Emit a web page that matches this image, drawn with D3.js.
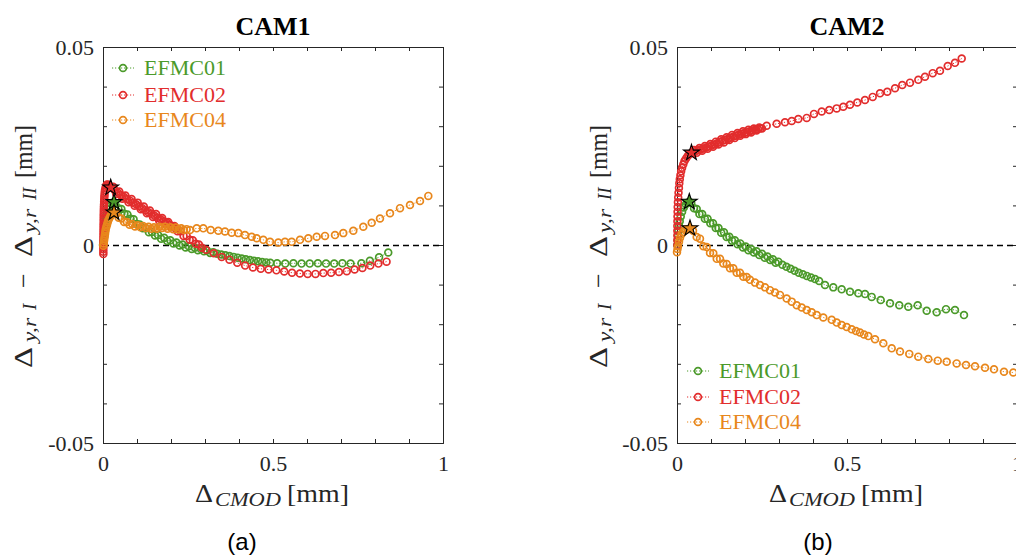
<!DOCTYPE html>
<html>
<head>
<meta charset="utf-8">
<script src="https://cdn.jsdelivr.net/npm/d3@7"></script>
<style>
  body { margin: 0; background: #fff; }
  svg { display: block; }
</style>
</head>
<body>
<svg id="chart" width="1016" height="557"></svg>
<script>
// series names / colours (same for both cameras)
const seriesNames = ["EFMC01", "EFMC02", "EFMC04"];
const seriesColors = ["#4b9a2a", "#e22d2d", "#e8871c"];

const xTickValues = [0, 0.5, 1];
const xTickLabels = ["0", "0.5", "1"];
const yTickValues = [-0.05, 0, 0.05];
const yTickLabels = ["-0.05", "0", "0.05"];

// CAM1, [CMOD, difference] in mm
const cam1Efmc01 = [[0,0],[0.002,0.001],[0.003,0.002],[0.004,0.003],[0.005,0.004],[0.006,0.005],[0.007,0.006],[0.009,0.007],[0.011,0.008],[0.014,0.009],[0.018,0.0098],[0.023,0.0104],[0.028,0.0107],[0.0324,0.0108],
  [0.036,0.0106],[0.045,0.0093],[0.054,0.0091],[0.063,0.0079],[0.072,0.0077],[0.081,0.0066],[0.090,0.0065],[0.099,0.0053],[0.108,0.0052],[0.117,0.0042],[0.126,0.0042],[0.135,0.0032],[0.144,0.0033],[0.153,0.0024],[0.162,0.0025],[0.171,0.0016],[0.180,0.0018],[0.189,0.0010],[0.198,0.0012],[0.207,0.0004],[0.216,0.0006],[0.225,-0.0001],[0.234,0.0001],[0.243,-0.0006],[0.252,-0.0003],[0.261,-0.0010],[0.270,-0.0007],[0.279,-0.0013],[0.288,-0.0010],[0.297,-0.0016],[0.306,-0.0014],[0.315,-0.0020],[0.324,-0.0018],
  [0.336,-0.0022],[0.348,-0.0024],[0.360,-0.0026],[0.372,-0.0028],[0.384,-0.0030],[0.396,-0.0032],[0.408,-0.0034],[0.420,-0.0036],[0.432,-0.0038],[0.444,-0.0040],[0.456,-0.0041],[0.468,-0.0043],[0.480,-0.0044],[0.492,-0.0045],
  [0.512,-0.0046],[0.536,-0.0047],[0.560,-0.0046],[0.584,-0.0047],[0.608,-0.0047],[0.632,-0.0046],[0.656,-0.0047],[0.680,-0.0047],[0.704,-0.0046],[0.728,-0.0047],[0.760,-0.0046],[0.785,-0.0040],[0.812,-0.0031],[0.839,-0.0019]];

const cam1Efmc02 = [[0.001,-0.0023],[0.001,-0.0017],[0.001,-0.0011],[0.001,-0.0005],[0.0012,0.0001],[0.0012,0.0007],[0.0013,0.0013],[0.0013,0.0019],[0.0014,0.0025],[0.0015,0.0031],[0.0015,0.0037],[0.0016,0.0043],[0.0017,0.0049],[0.0018,0.0055],[0.0019,0.0061],[0.002,0.0067],[0.0021,0.0073],[0.0022,0.0079],[0.0023,0.0085],[0.0025,0.0091],[0.0027,0.0097],[0.003,0.0103],[0.0033,0.0109],[0.0036,0.0115],[0.004,0.0121],[0.0045,0.0127],[0.005,0.0133],[0.006,0.0139],[0.0075,0.0145],[0.0095,0.0150],[0.012,0.0153],[0.015,0.0152],[0.019,0.0149],[0.0226,0.0145],
  [0.030,0.0147],[0.0345,0.0138],[0.039,0.0129],[0.0435,0.0132],[0.048,0.0135],[0.0525,0.0126],[0.057,0.0117],[0.0615,0.0121],[0.066,0.0125],[0.0705,0.0116],[0.075,0.0108],[0.0795,0.0112],[0.084,0.0116],[0.0885,0.0107],[0.093,0.0099],[0.0975,0.0103],[0.102,0.0107],[0.1065,0.0098],[0.111,0.0090],[0.1155,0.0093],[0.120,0.0097],[0.1245,0.0088],[0.129,0.0080],[0.1335,0.0083],[0.138,0.0087],[0.1425,0.0079],[0.147,0.0071],[0.1515,0.0074],[0.156,0.0078],[0.1605,0.0069],[0.165,0.0062],[0.1695,0.0065],[0.174,0.0068],[0.1785,0.0060],[0.183,0.0053],[0.1875,0.0056],[0.192,0.0058],[0.1965,0.0051],[0.201,0.0045],[0.2055,0.0046],[0.210,0.0048],[0.2145,0.0041],[0.219,0.0035],[0.228,0.0035],[0.237,0.0023],[0.246,0.0023],[0.255,0.0013],[0.264,0.0012],[0.273,0.0003],[0.282,0.0001],[0.291,-0.0007],
  [0.303,-0.0012],[0.326,-0.0021],[0.349,-0.0030],[0.372,-0.0037],[0.395,-0.0045],[0.418,-0.0052],[0.441,-0.0057],[0.464,-0.0060],[0.487,-0.0062],[0.510,-0.0064],[0.533,-0.0067],[0.556,-0.0070],[0.579,-0.0072],[0.602,-0.0073],[0.625,-0.0073],[0.648,-0.0071],[0.671,-0.0070],[0.694,-0.0068],[0.717,-0.0066],[0.740,-0.0062],[0.763,-0.0058],[0.786,-0.0052],[0.810,-0.0047],[0.834,-0.0042]];

const cam1Efmc04 = [[0.001,-0.0002],[0.002,0.0004],[0.003,0.001],[0.004,0.0016],[0.005,0.0022],[0.006,0.0028],[0.007,0.0034],[0.008,0.004],[0.010,0.0046],[0.012,0.0052],[0.014,0.0058],[0.016,0.0063],[0.019,0.0068],[0.022,0.0073],[0.025,0.0077],[0.029,0.008],[0.0324,0.0082],
  [0.038,0.0079],[0.046,0.0069],[0.054,0.0067],[0.062,0.0058],[0.070,0.0058],[0.078,0.0051],[0.086,0.0053],[0.094,0.0047],[0.102,0.0050],[0.110,0.0045],[0.118,0.0048],[0.126,0.0043],[0.134,0.0046],[0.142,0.0041],[0.150,0.0045],[0.158,0.0041],[0.166,0.0046],[0.174,0.0043],[0.182,0.0046],[0.190,0.0041],[0.198,0.0045],[0.206,0.0040],[0.214,0.0044],[0.222,0.0039],[0.230,0.0042],[0.238,0.0038],[0.246,0.0040],
  [0.2559,0.0038],[0.2756,0.0042],[0.295,0.0042],[0.3167,0.0038],[0.3392,0.0036],[0.3588,0.0034],[0.3785,0.0031],[0.398,0.0030],[0.4176,0.0025],[0.4373,0.0021],[0.452,0.0017],[0.4715,0.0013],[0.4912,0.0008],[0.5156,0.0006],[0.5353,0.0008],[0.555,0.0008],[0.5794,0.0013],[0.6039,0.0017],[0.6285,0.0021],[0.6529,0.0023],[0.6824,0.0025],[0.7068,0.0030],[0.7362,0.0036],[0.7656,0.0046],[0.7903,0.0056],[0.8147,0.0067],[0.8441,0.0080],[0.8735,0.0093],[0.9029,0.0101],[0.9324,0.0111],[0.9568,0.0124]];

// CAM2
const cam2Efmc01 = [[0.001,0],[0.002,0.0012],[0.003,0.0024],[0.004,0.0036],[0.006,0.0048],[0.008,0.006],[0.011,0.0072],[0.015,0.0084],[0.020,0.0095],[0.026,0.0103],[0.031,0.0107],[0.0362,0.0109],
  [0.042,0.0106],[0.050,0.0093],[0.058,0.0091],[0.066,0.0078],[0.074,0.0078],[0.082,0.0066],[0.090,0.0066],[0.098,0.0055],[0.106,0.0055],[0.114,0.0043],[0.122,0.0043],[0.130,0.0031],[0.138,0.0032],[0.146,0.0020],[0.154,0.0021],[0.162,0.0011],[0.170,0.0012],[0.178,0.0002],[0.186,0.0004],[0.194,-0.0006],[0.202,-0.0004],[0.210,-0.0013],[0.218,-0.0010],[0.226,-0.0019],[0.234,-0.0016],[0.242,-0.0025],[0.250,-0.0022],[0.258,-0.0032],[0.266,-0.0029],[0.274,-0.0038],[0.282,-0.0036],[0.290,-0.0045],[0.298,-0.0042],
  [0.310,-0.0050],[0.322,-0.0055],[0.334,-0.0060],[0.346,-0.0065],[0.358,-0.0070],[0.370,-0.0074],[0.382,-0.0078],[0.394,-0.0082],[0.406,-0.0086],[0.418,-0.0091],
  [0.4353,-0.0101],[0.4597,-0.0107],[0.4844,-0.0112],[0.5088,-0.0118],[0.5332,-0.0122],[0.5529,-0.0124],[0.5726,-0.0131],[0.5991,-0.0139],[0.6265,-0.0147],[0.6538,-0.0152],[0.6803,-0.0156],[0.7079,-0.0152],[0.7344,-0.0166],[0.7638,-0.0170],[0.7912,-0.0162],[0.8176,-0.0164],[0.8441,-0.0177]];

const cam2Efmc02 = [[0.001,0],[0.001,0.0012],[0.001,0.0024],[0.001,0.0036],[0.001,0.0048],[0.0012,0.006],[0.0014,0.0072],[0.0017,0.0084],[0.0021,0.0096],[0.0027,0.0108],[0.0035,0.012],[0.0045,0.0132],[0.0057,0.0144],[0.0068,0.0156],[0.0082,0.0166],[0.0100,0.0176],[0.0122,0.0186],[0.0150,0.0195],[0.0185,0.0204],[0.022,0.0212],[0.026,0.0218],[0.030,0.0223],[0.034,0.0227],[0.038,0.0230],[0.0426,0.0233],
  [0.050,0.0240],[0.054,0.0237],[0.058,0.0233],[0.062,0.0239],[0.066,0.0245],[0.070,0.0241],[0.074,0.0238],[0.078,0.0244],[0.082,0.0250],[0.086,0.0246],[0.090,0.0243],[0.094,0.0249],[0.098,0.0255],[0.102,0.0251],[0.106,0.0248],[0.110,0.0254],[0.114,0.0261],[0.118,0.0257],[0.122,0.0254],[0.126,0.0260],[0.130,0.0267],[0.134,0.0263],[0.138,0.0259],[0.142,0.0265],[0.146,0.0272],[0.150,0.0268],[0.154,0.0265],[0.158,0.0271],[0.162,0.0278],[0.166,0.0274],[0.170,0.0270],[0.174,0.0276],[0.178,0.0283],[0.182,0.0279],[0.186,0.0276],[0.190,0.0281],[0.194,0.0287],[0.198,0.0283],[0.202,0.0280],[0.206,0.0285],[0.210,0.0291],[0.214,0.0287],[0.218,0.0284],[0.222,0.0289],[0.226,0.0294],[0.230,0.0291],[0.234,0.0289],[0.238,0.0293],[0.242,0.0297],[0.246,0.0295],[0.250,0.0294],
  [0.2638,0.0301],[0.2932,0.0306],[0.3176,0.0310],[0.3374,0.0313],[0.3568,0.0318],[0.3815,0.0321],[0.4029,0.0331],[0.4256,0.0337],[0.4479,0.0341],[0.4697,0.0345],[0.4891,0.0349],[0.5088,0.0354],[0.5303,0.0360],[0.5529,0.0366],[0.5756,0.0374],[0.5971,0.0383],[0.6185,0.0387],[0.6412,0.0396],[0.6626,0.0404],[0.6853,0.0410],[0.7097,0.0417],[0.7294,0.0425],[0.7521,0.0434],[0.7735,0.0440],[0.7962,0.0452],[0.8176,0.0460],[0.8374,0.0471]];

const cam2Efmc04 = [[0,-0.0018],[0.0015,-0.0010],[0.003,-0.0003],[0.0059,0.0008],[0.0088,0.0018],[0.0132,0.0027],[0.0176,0.0033],[0.0235,0.0038],[0.0309,0.0040],[0.0382,0.0042],
  [0.0471,0.0036],[0.0579,0.0020],[0.0676,0.0016],[0.0774,-0.0003],[0.0874,-0.0005],[0.0971,-0.0020],[0.1068,-0.0021],[0.1168,-0.0035],[0.1265,-0.0035],[0.1362,-0.0047],[0.1462,-0.0048],[0.1559,-0.0059],[0.1656,-0.0059],[0.1756,-0.0070],[0.1853,-0.0070],[0.1950,-0.0080],[0.2050,-0.0081],[0.2147,-0.0088],
  [0.2294,-0.0095],[0.2441,-0.0101],[0.2588,-0.0107],[0.2735,-0.0114],[0.2882,-0.0120],[0.3029,-0.0126],[0.3226,-0.0135],[0.3374,-0.0143],[0.3521,-0.0152],[0.3668,-0.0158],[0.3815,-0.0164],[0.3962,-0.0170],[0.4109,-0.0177],[0.4303,-0.0183],[0.4550,-0.0189],[0.4697,-0.0196],[0.4844,-0.0202],[0.4991,-0.0207],[0.5138,-0.0213],[0.5265,-0.0217],[0.5382,-0.0221],[0.5500,-0.0226],[0.5626,-0.0230],[0.5824,-0.0238],[0.6068,-0.0248],[0.6315,-0.0261],[0.6559,-0.0269],[0.6832,-0.0275],[0.7097,-0.0282],[0.7391,-0.0288],[0.7668,-0.0292],[0.7932,-0.0295],[0.8226,-0.0299],[0.8500,-0.0303],[0.8765,-0.0306],[0.9059,-0.0310],[0.9324,-0.0314],[0.9618,-0.0320],[0.9891,-0.0322]];

// peak points (stars), in series order
const cam1Peaks = [[0.0324,0.0108],[0.0226,0.0145],[0.0324,0.0082]];
const cam2Peaks = [[0.0362,0.0109],[0.0426,0.0233],[0.0382,0.0042]];

const panels = [
  { title: "CAM1", caption: "(a)", left: 103, captionX: 242, ylabX: 32,
    series: [cam1Efmc01, cam1Efmc02, cam1Efmc04], peaks: cam1Peaks,
    legendX: 112, legendYs: [68, 95, 120] },
  { title: "CAM2", caption: "(b)", left: 677, captionX: 818, ylabX: 607,
    series: [cam2Efmc01, cam2Efmc02, cam2Efmc04], peaks: cam2Peaks,
    legendX: 687, legendYs: [371, 397, 422] }
];

const svg = d3.select("#chart");
const serif = "'Liberation Serif', 'Times New Roman', serif";
const axisColor = "#262626";
const plotW = 340, plotTop = 47, plotBottom = 443;
const markerR = 3.4;

panels.forEach((p, pi) => drawPanel(p, pi));

function drawPanel(p, pi) {
  const x = d3.scaleLinear().domain([0, 1]).range([p.left, p.left + plotW]);
  const y = d3.scaleLinear().domain([-0.05, 0.05]).range([plotBottom, plotTop]);
  const g = svg.append("g");

  const xMinor = d3.range(0, 1.0001, 0.1);
  const yMinor = d3.range(-0.05, 0.05001, 0.01);
  const fmt = (vals, labels) => d => {
    const i = vals.findIndex(v => Math.abs(v - d) < 1e-9);
    return i < 0 ? "" : labels[i];
  };

  // axes, ticks inward
  const axB = g.append("g").attr("transform", `translate(0,${plotBottom})`)
    .call(d3.axisBottom(x).tickValues(xMinor).tickSize(-4).tickPadding(12)
      .tickFormat(fmt(xTickValues, xTickLabels)));
  const axT = g.append("g").attr("transform", `translate(0,${plotTop})`)
    .call(d3.axisTop(x).tickValues(xMinor).tickSize(-4).tickFormat(""));
  const axL = g.append("g").attr("transform", `translate(${p.left},0)`)
    .call(d3.axisLeft(y).tickValues(yMinor).tickSize(-4).tickPadding(9)
      .tickFormat(fmt(yTickValues, yTickLabels)));
  const axR = g.append("g").attr("transform", `translate(${p.left + plotW},0)`)
    .call(d3.axisRight(y).tickValues(yMinor).tickSize(-4).tickFormat(""));

  [axB, axT, axL, axR].forEach(a => {
    a.attr("font-family", serif);
    a.select(".domain").attr("stroke", axisColor);
    a.selectAll(".tick line").attr("stroke", axisColor);
    a.selectAll("text").attr("font-family", serif).attr("font-size", 22).attr("fill", axisColor);
  });

  // zero line
  g.append("line")
    .attr("x1", x(0)).attr("x2", x(1)).attr("y1", y(0) + 0.5).attr("y2", y(0) + 0.5)
    .attr("stroke", "#000").attr("stroke-width", 1.3).attr("stroke-dasharray", "6,4");

  // data
  const clipId = "clip" + pi;
  g.append("clipPath").attr("id", clipId).append("rect")
    .attr("x", x(0) - 6).attr("y", plotTop).attr("width", plotW + 6).attr("height", plotBottom - plotTop);
  const data = g.append("g").attr("clip-path", `url(#${clipId})`);
  const line = d3.line().x(d => x(d[0])).y(d => y(d[1]));

  p.series.forEach((s, i) => {
    const sg = data.append("g");
    sg.append("path").datum(s).attr("d", line).attr("fill", "none")
      .attr("stroke", seriesColors[i]).attr("stroke-width", 1).attr("stroke-dasharray", "1.2,1.8");
    sg.selectAll("circle").data(s).join("circle")
      .attr("cx", d => x(d[0])).attr("cy", d => y(d[1])).attr("r", markerR)
      .attr("fill", "none").attr("stroke", seriesColors[i]).attr("stroke-width", 1.7);
  });

  const star = d3.symbol(d3.symbolStar, 78);
  p.peaks.forEach((d, i) => {
    data.append("path").attr("d", star())
      .attr("transform", `translate(${x(d[0])},${y(d[1])})`)
      .attr("fill", seriesColors[i]).attr("stroke", "#000").attr("stroke-width", 1.1);
  });

  // legend
  seriesNames.forEach((name, i) => {
    const ly = p.legendYs[i];
    const lg = g.append("g");
    lg.append("line").attr("x1", p.legendX).attr("x2", p.legendX + 22).attr("y1", ly).attr("y2", ly)
      .attr("stroke", seriesColors[i]).attr("stroke-width", 1).attr("stroke-dasharray", "1.2,1.8");
    lg.append("circle").attr("cx", p.legendX + 11).attr("cy", ly).attr("r", markerR)
      .attr("fill", "none").attr("stroke", seriesColors[i]).attr("stroke-width", 1.7);
    lg.append("text").attr("x", p.legendX + 32).attr("y", ly + 7)
      .attr("font-family", serif).attr("font-size", 22).attr("fill", seriesColors[i]).text(name);
  });

  // title
  g.append("text").attr("x", x(0.5)).attr("y", 35).attr("text-anchor", "middle")
    .attr("font-family", serif).attr("font-size", 26).attr("font-weight", "bold").attr("fill", "#000")
    .text(p.title);

  // x label: Δ_CMOD [mm]
  const xl = p.left + 92;
  g.append("text").attr("x", xl).attr("y", 502).attr("font-family", serif).attr("font-size", 26)
    .attr("fill", axisColor).attr("textLength", 18).attr("lengthAdjust", "spacingAndGlyphs").text("Δ");
  g.append("text").attr("x", xl + 20).attr("y", 506).attr("font-family", serif).attr("font-size", 19)
    .attr("font-style", "italic").attr("fill", axisColor)
    .attr("textLength", 66).attr("lengthAdjust", "spacingAndGlyphs").text("CMOD");
  g.append("text").attr("x", xl + 92).attr("y", 502).attr("font-family", serif).attr("font-size", 26)
    .attr("fill", axisColor).attr("textLength", 62).attr("lengthAdjust", "spacingAndGlyphs").text("[mm]");

  // y label, rotated
  const yl = g.append("g").attr("transform", `translate(${p.ylabX},368) rotate(-90)`);
  const yParts = [
    { t: "Δ", x: 0, dy: 0, it: false, fs: 26, len: 21 },
    { t: "y,r", x: 26, dy: 4, it: true, fs: 19, len: 24 },
    { t: "I", x: 58, dy: 4, it: true, fs: 19, len: 0 },
    { t: "−", x: 80, dy: 0, it: false, fs: 26, len: 0 },
    { t: "Δ", x: 111, dy: 0, it: false, fs: 26, len: 21 },
    { t: "y,r", x: 135, dy: 4, it: true, fs: 19, len: 24 },
    { t: "II", x: 168, dy: 4, it: true, fs: 19, len: 0 },
    { t: "[mm]", x: 190, dy: 0, it: false, fs: 26, len: 53 }
  ];
  yParts.forEach(t => {
    const el = yl.append("text").attr("x", t.x).attr("y", t.dy)
      .attr("font-family", serif).attr("font-size", t.fs).attr("fill", axisColor)
      .attr("font-style", t.it ? "italic" : "normal").text(t.t);
    if (t.len) el.attr("textLength", t.len).attr("lengthAdjust", "spacingAndGlyphs");
  });

  // caption
  svg.append("text").attr("x", p.captionX).attr("y", 550).attr("text-anchor", "middle")
    .attr("font-family", "'Liberation Sans', Arial, sans-serif").attr("font-size", 24).attr("fill", "#000")
    .text(p.caption);
}
</script>
</body>
</html>
